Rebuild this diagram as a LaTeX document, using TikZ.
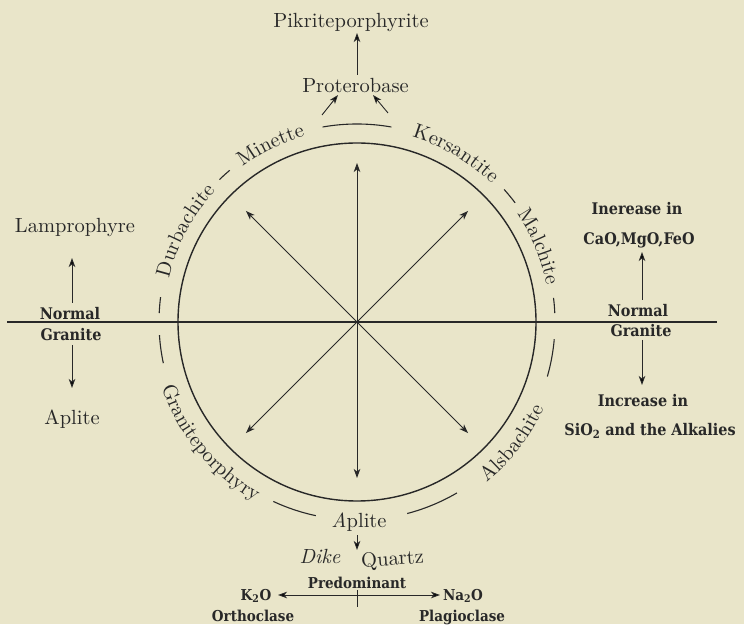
\documentclass[tikz,border=0pt]{standalone}
\usepackage{fontspec}
\newfontfamily\labfont{DejaVu Serif Condensed}
\newfontfamily\arcfam{lmroman10-regular}[Extension=.otf,ItalicFont=lmroman10-italic]
\usetikzlibrary{decorations.text,arrows.meta}
\definecolor{paper}{RGB}{233,229,201}
\definecolor{inkc}{RGB}{40,40,40}
\newcommand\arcf{\arcfam\fontsize{20.5}{25}\selectfont}
\newcommand\labf{\labfont\bfseries\fontsize{16}{19}\selectfont}
\newcommand\labs{\labfont\bfseries\fontsize{15}{18}\selectfont}
\begin{document}
\begin{tikzpicture}[x=1pt,y=1pt,
  lineink/.style={draw=inkc,line width=1.1pt},
  arr/.style={draw=inkc,line width=0.9pt,-{Stealth[length=9pt,width=6.5pt,inset=2.5pt]}},
  lbl/.style={anchor=base,text=inkc,inner sep=0pt},
  arctext/.style={decorate,decoration={text along path,text align=center,text color=inkc,text={|\arcf|#1}}}]
\fill[paper] (0,0) rectangle (744,624);
\useasboundingbox (0,0) rectangle (744,624);
\coordinate (C) at (357,302);
% circle and horizontal line
\draw[lineink,line width=1.4pt] (C) circle[radius=179];
\coordinate (hl) at (7,302);
\coordinate (hr) at (717,302);
\draw[lineink,line width=1.4pt] (hl) -- (hr);
% outer broken arc
\foreach \a/\b in {80/100,130/134,172.8/177.4,183.8/192,245/258,284.7/300.3,344/355,2.6/7,37/42}
  \draw[lineink] ([shift={(\a:198)}]C) arc[start angle=\a,end angle=\b,radius=198];
% radial arrows
\foreach \ang/\len/\nm in {90/159/tN,270/156/tS,45/157/tNE,135/157/tNW,225/157/tSW,315/157/tSE}{
  \path (C) ++(\ang:\len) coordinate (\nm);
  \draw[arr] (C) -- (\nm);
}
% texts along the outer arc
\path[arctext={Durbachite}] ([shift={(167:193)}]C) arc[start angle=167,end angle=137,radius=193];
\path[arctext={Minette}] ([shift={(127:193)}]C) arc[start angle=127,end angle=105,radius=193];
\path[arctext={Kersantite}] ([shift={(74:193)}]C) arc[start angle=74,end angle=45,radius=193];
\path[arctext={Malchite}] ([shift={(35:193)}]C) arc[start angle=35,end angle=10,radius=193];
\path[arctext={Graniteporphyry}] ([shift={(197:206)}]C) arc[start angle=197,end angle=242,radius=206];
\path[arctext={Alsbachite}] ([shift={(307:206)}]C) arc[start angle=307,end angle=337,radius=206];
\node[lbl,font=\arcf] (apb) at (359,97) {\textit{A}plite};
% top
\node[lbl,font=\arcf] (pik) at (351,596) {Pikriteporphyrite};
\node[lbl,font=\arcf] (pro) at (355.5,531) {Proterobase};
\coordinate (proT) at (357,549);
\coordinate (pikB) at (357,591);
\draw[arr] (proT) -- (pikB);
\coordinate (l1) at (322,509); \coordinate (l1t) at (338,529);
\coordinate (r1) at (388,511); \coordinate (r1t) at (373,529);
\draw[arr] (l1) -- (l1t);
\draw[arr] (r1) -- (r1t);
% left
\node[lbl,font=\arcf] (lam) at (75,391) {Lamprophyre};
\node[lbl,font=\labf] (nl) at (70,304) {Normal};
\node[lbl,font=\labf] (gl) at (71,283) {Granite};
\node[lbl,font=\arcf] (apl) at (72,199) {Aplite};
\coordinate (lu0) at (72,321); \coordinate (lu1) at (72,366);
\coordinate (ld0) at (72,279); \coordinate (ld1) at (72,236);
\draw[arr] (lu0) -- (lu1);
\draw[arr] (ld0) -- (ld1);
% right
\node[lbl,font=\labf] (inc1) at (637,409) {Inerease in};
\node[lbl,font=\labf] (cao) at (639,379) {CaO,MgO,FeO};
\node[lbl,font=\labf] (nr) at (638,307) {Normal};
\node[lbl,font=\labf] (gr) at (641,287) {Granite};
\node[lbl,font=\labf] (inc2) at (643,217) {Increase in};
\node[lbl,font=\labf] (sio) at (650,188) {SiO\textsubscript{2} and the Alkalies};
\coordinate (ru0) at (642,324); \coordinate (ru1) at (642,372);
\coordinate (rd0) at (642,284); \coordinate (rd1) at (642,239);
\draw[arr] (ru0) -- (ru1);
\draw[arr] (rd0) -- (rd1);
% bottom
\coordinate (ab0) at (357,89); \coordinate (ab1) at (357,74);
\draw[arr] (ab0) -- (ab1);
\node[lbl,font=\arcf\itshape] (dike) at (320,61) {Dike};
\node[lbl,font=\arcf,rotate=4] (qtz) at (393,59) {Quartz};
\node[lbl,font=\labs] (pred) at (357,36) {Predominant};
\node[lbl,font=\labs] (k2o) at (256,24) {K\textsubscript{2}O};
\node[lbl,font=\labs] (na2o) at (463,24) {Na\textsubscript{2}O};
\coordinate (m) at (357,29);
\coordinate (kt) at (278,29); \coordinate (nt) at (440,29);
\draw[arr] (m) -- (kt);
\draw[arr] (m) -- (nt);
\coordinate (tk0) at (357,34); \coordinate (tk1) at (357,17);
\draw[draw=inkc,line width=0.9pt] (tk0) -- (tk1);
\node[lbl,font=\labs] (orth) at (253,3) {Orthoclase};
\node[lbl,font=\labs] (plag) at (462,3) {Plagioclase};
\end{tikzpicture}
\end{document}
